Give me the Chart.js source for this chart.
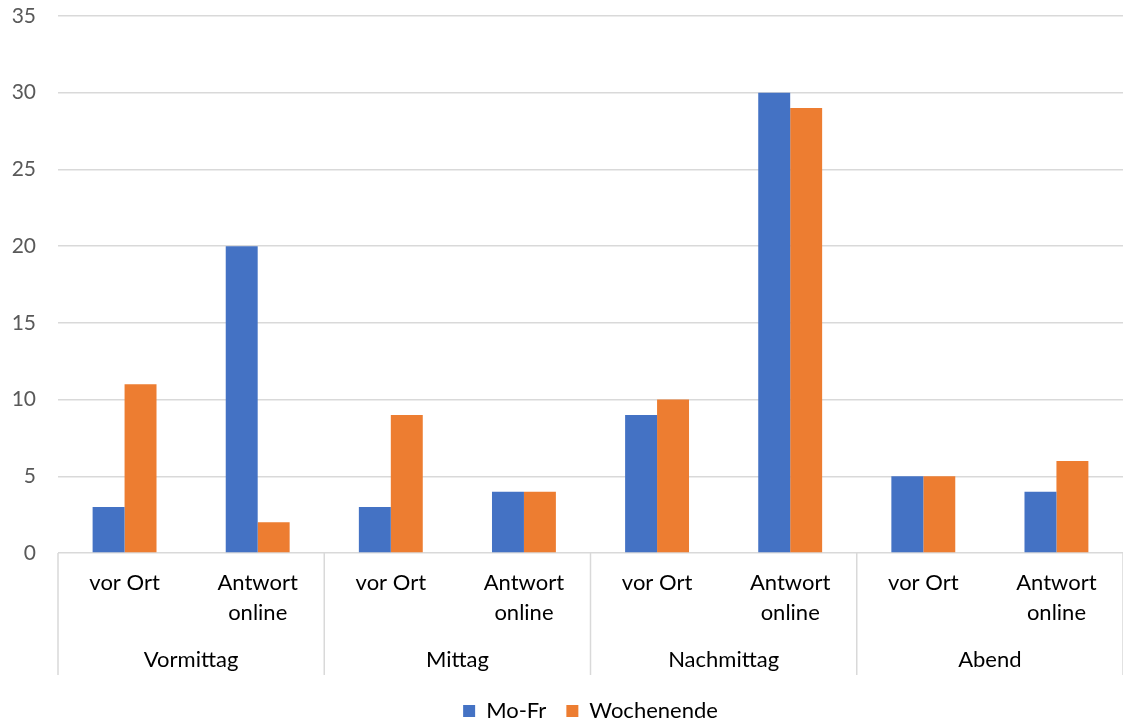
<!DOCTYPE html>
<html>
<head>
<meta charset="utf-8">
<script src="https://cdn.jsdelivr.net/npm/chart.js@4/dist/chart.umd.min.js"></script>
<style>
  html, body { margin: 0; padding: 0; background: #fff; }
  #wrap { width: 1123px; height: 723px; }
</style>
</head>
<body>
<div id="wrap"><canvas id="chartCanvas" width="1123" height="723"></canvas></div>
<script>
// data
const categories = [['vor Ort'], ['Antwort', 'online'], ['vor Ort'], ['Antwort', 'online'],
                    ['vor Ort'], ['Antwort', 'online'], ['vor Ort'], ['Antwort', 'online']];
const groups = ['Vormittag', 'Mittag', 'Nachmittag', 'Abend'];
const moFr = [3, 20, 3, 4, 9, 30, 5, 4];
const wochenende = [11, 2, 9, 4, 10, 29, 5, 6];

const fontFamily = 'Lato, "Liberation Sans", sans-serif';
const gridColor = '#d9d9d9';

// vertical separators between the groups, below the axis
const groupLines = {
    id: 'groupLines',
    afterDraw(chart) {
        const x = chart.scales.x;
        const ctx = chart.ctx;
        const per = categories.length / groups.length;
        ctx.save();
        ctx.strokeStyle = gridColor;
        ctx.lineWidth = 1.5;
        for (let i = 0; i <= groups.length; i++) {
            let px;
            if (i === 0) px = x.left;
            else if (i === groups.length) px = x.right;
            else px = (x.getPixelForValue(i * per - 1) + x.getPixelForValue(i * per)) / 2;
            ctx.beginPath();
            ctx.moveTo(px, x.top);
            ctx.lineTo(px, 675);
            ctx.stroke();
        }
        ctx.restore();
    }
};

new Chart(document.getElementById('chartCanvas'), {
    type: 'bar',
    data: {
        labels: categories,
        datasets: [
            { label: 'Mo-Fr', data: moFr, backgroundColor: '#4472C4', categoryPercentage: 0.48, barPercentage: 1 },
            { label: 'Wochenende', data: wochenende, backgroundColor: '#ED7D31', categoryPercentage: 0.48, barPercentage: 1 }
        ]
    },
    options: {
        responsive: false,
        animation: false,
        layout: { padding: { top: 16, right: 0, bottom: 0, left: 0 } },
        plugins: {
            tooltip: { enabled: false },
            legend: {
                position: 'bottom',
                fullSize: false,
                maxHeight: 43,
                labels: {
                    boxWidth: 12,
                    boxHeight: 12,
                    padding: 20,
                    color: '#000',
                    font: { family: fontFamily, size: 22 }
                }
            }
        },
        scales: {
            x: {
                weight: 0,
                grid: { display: false, drawTicks: false },
                border: { display: false },
                ticks: {
                    color: '#000',
                    padding: 15,
                    maxRotation: 0,
                    autoSkip: false,
                    font: { family: fontFamily, size: 22, lineHeight: '30px' }
                },
                afterFit(scale) { scale.height = 90; }
            },
            xGroup: {
                type: 'category',
                position: 'bottom',
                weight: 1,
                labels: groups,
                offset: true,
                grid: { display: false, drawTicks: false },
                border: { display: false },
                ticks: {
                    color: '#000',
                    padding: 2,
                    maxRotation: 0,
                    autoSkip: false,
                    font: { family: fontFamily, size: 22, lineHeight: '30px' }
                },
                afterFit(scale) { scale.height = 37; }
            },
            y: {
                min: 0,
                max: 35,
                grid: { color: gridColor, lineWidth: 1.5, drawTicks: true, tickLength: 22, tickColor: 'rgba(0,0,0,0)' },
                border: { display: false },
                ticks: {
                    stepSize: 5,
                    padding: 0,
                    color: '#595959',
                    font: { family: fontFamily, size: 21 }
                },
                afterFit(scale) { scale.width = 58; }
            }
        }
    },
    plugins: [groupLines]
});
</script>
</body>
</html>
